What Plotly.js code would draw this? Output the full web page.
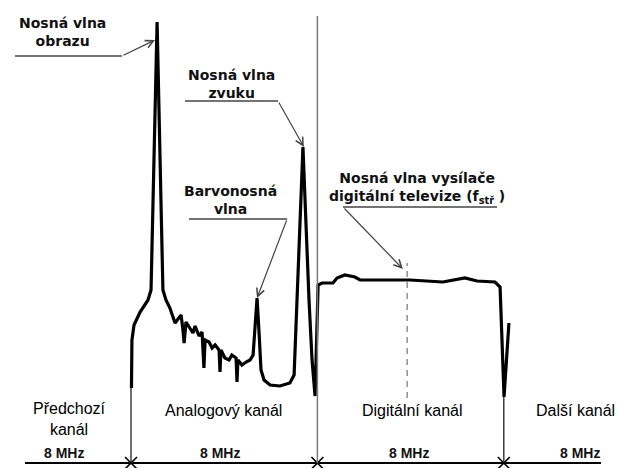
<!DOCTYPE html>
<html>
<head>
<meta charset="utf-8">
<script src="https://cdn.plot.ly/plotly-3.0.1.min.js"></script>
<style>html,body{margin:0;padding:0;background:#fff;}</style>
</head>
<body>
<div id="chart" style="width:617px;height:468px;"></div>
<script>
// Spectrum trace: frequency (MHz, relative to lower edge of analog channel) and level (arbitrary units)
const freqMHz = [0.02,0.04,0.13,0.39,0.73,0.86,1.12,1.37,1.50,1.67,
  1.89,2.06,2.15,2.23,2.28,2.36,2.53,2.66,2.75,2.92,
  3.05,3.09,3.13,3.18,3.35,3.48,3.61,3.78,3.82,3.86,
  4.03,4.21,4.33,4.51,4.55,4.59,4.76,4.94,5.11,5.24,
  5.36,5.41,5.49,5.58,5.71,5.97,6.39,6.82,7.00,7.08,
  7.38,7.64,7.77,7.90,
  8.03,8.03,8.20,8.67,8.84,9.18,9.61,9.83,10.69,11.97,
  13.39,14.33,14.85,15.62,15.84,16.01,16.22];
const level = [18.75,30.75,34.5,37.75,40.75,43.25,110.25,43.25,40.75,38.75,
  35,36.25,37,33.25,30,35.25,33.75,32.5,34.25,31.75,
  32.75,27.75,23.75,30.75,30.25,28.75,29.5,28.25,22.75,28.25,
  26.25,25.75,27,26.25,20.25,25.75,24.5,25.25,25.75,27,
  35.75,41.25,33.25,23.25,20.75,19.5,19.25,20,22,33.25,
  79,40.75,25.75,16.75,
  40.75,44.5,45,45,46.25,47,46.5,45.75,45.75,45.75,
  45.25,46.25,45.5,45.25,44,16.5,35];

// Channel boundaries (MHz) and the level where each boundary line ends
const channelEdges = [0, 8, 16];
const edgeTops = [19, 111.75, 16.5];
const bandStart = -4.55, bandEnd = 20.17;
const channelNames = [["Předchozí","kanál"],["Analogový kanál"],["Digitální kanál"],["Další kanál"]];
const channelWidth = ["8 MHz","8 MHz","8 MHz","8 MHz"];
const nameX = [-2.66, 3.99, 12.10, 19.06];
const widthX = [-2.88, 3.82, 11.93, 19.27];

// Digital carrier (f_stř)
const digitalCarrier = 11.85;
const digitalCarrierSpan = [16.25, 50];

// Callouts: text, text centre, underline span, arrow target
const calloutText = ["Nosná vlna<br>obrazu","Nosná vlna<br>zvuku","Barvonosná<br>vlna","Nosná vlna vysílače<br>digitální televize (f<sub>stř</sub> )"];
const calloutTextX = [-2.92, 4.33, 4.25, 12.27];
const calloutTextY = [107.8, 94.75, 65.7, 68.7];
const calloutLineX0 = [-4.98, 2.32, 2.49, 9.10];
const calloutLineX1 = [-0.39, 6.31, 6.70, 15.71];
const calloutLineY = [101.75, 90.5, 61, 64];
const calloutFromX = [-0.39, 6.31, 6.70, 9.10];
const calloutTargetX = [1.03, 7.42, 5.41, 11.67];
const calloutTargetY = [105.75, 79, 41.25, 48.5];

const traces = [
  {x: freqMHz, y: level, type: 'scatter', mode: 'lines',
   line: {color: '#000', width: 3.2}, hoverinfo: 'skip', showlegend: false},
  {x: channelEdges, y: channelEdges.map(() => 0), type: 'scatter', mode: 'markers',
   marker: {symbol: 'x-thin-open', size: 12, color: '#000', line: {color: '#000', width: 1.6}},
   hoverinfo: 'skip', showlegend: false}
];

const shapes = [];
shapes.push({type: 'line', xref: 'x', yref: 'y', x0: bandStart, x1: bandEnd, y0: 0, y1: 0,
  line: {color: '#000', width: 2}});
channelEdges.forEach((e, i) => {
  shapes.push({type: 'line', xref: 'x', yref: 'y', x0: e, x1: e, y0: 0, y1: edgeTops[i],
    line: {color: i === 1 ? '#7a7a7a' : '#222', width: i === 1 ? 1.5 : 1.3}});
});
shapes.push({type: 'line', xref: 'x', yref: 'y', x0: digitalCarrier, x1: digitalCarrier,
  y0: digitalCarrierSpan[0], y1: digitalCarrierSpan[1], line: {color: '#555', width: 1, dash: '6px,5px'}});
calloutLineY.forEach((y, i) => {
  shapes.push({type: 'line', xref: 'x', yref: 'y', x0: calloutLineX0[i], x1: calloutLineX1[i], y0: y, y1: y,
    line: {color: '#444', width: 1.3}});
});

const annotations = [];
const boldFont = {family: 'DejaVu Sans', size: 14, color: '#111', weight: 'bold'};
calloutText.forEach((t, i) => {
  annotations.push({xref: 'x', yref: 'y', x: calloutTextX[i], y: calloutTextY[i], text: t,
    showarrow: false, xanchor: 'center', yanchor: 'middle', align: 'center', font: boldFont});
  annotations.push({xref: 'x', yref: 'y', axref: 'x', ayref: 'y', x: calloutTargetX[i], y: calloutTargetY[i],
    ax: calloutFromX[i], ay: calloutLineY[i], text: '', showarrow: true, arrowhead: 5, arrowsize: 1.3,
    arrowwidth: 1.2, arrowcolor: '#444', standoff: 0, startstandoff: 0});
});
const labelFont = {family: 'Liberation Sans, Arial, sans-serif', size: 16, color: '#000'};
channelNames.forEach((lines, i) => {
  annotations.push({xref: 'x', yref: 'y', x: nameX[i], y: lines.length > 1 ? 11.1 : 13.25,
    text: lines.join('<br>'), showarrow: false, xanchor: 'center', yanchor: 'middle', align: 'center',
    font: labelFont});
  annotations.push({xref: 'x', yref: 'y', x: widthX[i], y: 2.5, text: channelWidth[i], showarrow: false,
    xanchor: 'center', yanchor: 'middle',
    font: {family: 'Liberation Sans, Arial, sans-serif', size: 14, color: '#111', weight: 'bold'}});
});

const layout = {
  width: 617, height: 468,
  margin: {l: 0, r: 0, t: 0, b: 0},
  paper_bgcolor: '#fff', plot_bgcolor: '#fff',
  xaxis: {range: [-5.622, 20.858], visible: false, fixedrange: true},
  yaxis: {range: [-1.25, 115.75], visible: false, fixedrange: true},
  shapes: shapes,
  annotations: annotations,
  showlegend: false
};

Plotly.newPlot('chart', traces, layout, {displayModeBar: false, staticPlot: true});
</script>
</body>
</html>
